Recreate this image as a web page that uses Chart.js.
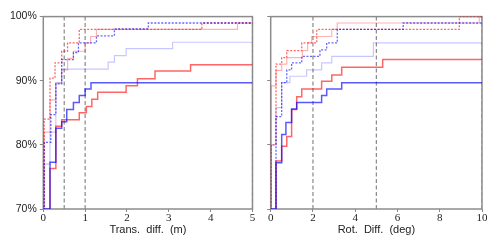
<!DOCTYPE html>
<html>
<head>
<meta charset="utf-8">
<script src="https://cdn.jsdelivr.net/npm/chart.js@4.4.1/dist/chart.umd.min.js"></script>
<style>
  html, body { margin: 0; padding: 0; background: #fff; }
  #wrap { position: relative; width: 500px; height: 250px; }
  canvas { position: absolute; top: 0; }
</style>
</head>
<body>
<div id="wrap">
  <canvas id="transChart" width="258" height="250" style="left:0"></canvas>
  <canvas id="rotChart" width="242" height="250" style="left:258px"></canvas>
</div>
<script>
// translation error CDF (m -> % of queries)
var transBlueX = [0, 0.16, 0.30, 0.44, 0.56, 0.72, 0.86, 1.00, 1.14, 5];
var transBlueY = [70, 77.3, 82.6, 83.6, 85.5, 86.6, 87.7, 88.7, 89.7, 89.7];
var transRedX = [0, 0.16, 0.30, 0.44, 0.86, 1.03, 1.16, 1.30, 1.98, 2.25, 2.67, 3.52, 5];
var transRedY = [65, 76.3, 82.9, 83.9, 85.0, 86.0, 87.1, 88.2, 89.2, 90.3, 91.5, 92.5, 92.5];
var transLightBlueX = [0, 0.02, 0.16, 0.30, 0.44, 1.55, 1.70, 1.98, 3.09, 5];
var transLightBlueY = [65, 77.0, 82.0, 89.7, 91.8, 92.9, 93.9, 95.0, 96.0, 96.0];
var transLightRedX = [0, 0.02, 0.16, 0.30, 0.44, 0.58, 0.72, 1.00, 1.13, 1.27, 4.64, 5];
var transLightRedY = [65, 82.0, 87.0, 89.6, 91.7, 93.5, 94.6, 95.9, 96.9, 98.0, 99.0, 99.0];
var transBlueDotX = [0, 0.02, 0.18, 0.30, 0.44, 0.72, 0.84, 1.27, 1.70, 2.51, 5];
var transBlueDotY = [65, 80.4, 84.7, 89.5, 93.3, 94.4, 95.9, 97.0, 98.1, 99.0, 99.0];
var transRedDotX = [0, 0.02, 0.16, 0.28, 0.44, 0.58, 0.86, 3.79, 5];
var transRedDotY = [65, 84.0, 90.4, 92.8, 94.6, 95.9, 98.0, 99.0, 99.0];
var transMarks = [0.5, 1, 5];

// rotation error CDF (deg -> % of queries)
var rotBlueX = [0, 0.25, 0.52, 0.72, 0.99, 1.23, 2.41, 2.65, 3.36, 10];
var rotBlueY = [70, 77.2, 81.6, 83.5, 85.6, 86.6, 87.7, 88.7, 89.7, 89.7];
var rotRedX = [0, 0.25, 0.52, 0.76, 0.99, 1.23, 1.47, 2.41, 2.89, 3.36, 5.30, 10];
var rotRedY = [65, 77.5, 79.8, 81.3, 85.5, 87.5, 88.7, 89.9, 90.9, 92.1, 93.3, 93.3];
var rotLightBlueX = [0, 0.02, 0.25, 0.52, 0.91, 1.70, 2.41, 2.89, 4.86, 10];
var rotLightBlueY = [65, 80.0, 85.8, 89.7, 90.7, 91.7, 92.8, 93.8, 95.9, 95.9];
var rotLightRedX = [0, 0.02, 0.25, 0.52, 0.76, 1.50, 1.75, 1.94, 2.89, 3.15, 9.87, 10];
var rotLightRedY = [65, 89.2, 91.6, 92.6, 93.6, 94.7, 95.9, 96.9, 98.0, 99.0, 100, 100];
var rotBlueDotX = [0, 0.25, 0.52, 0.76, 0.99, 1.47, 2.33, 2.65, 3.15, 6.27, 10];
var rotBlueDotY = [65, 84.4, 89.7, 91.7, 92.8, 93.8, 94.8, 95.9, 98.0, 99.0, 99.0];
var rotRedDotX = [0, 0.02, 0.25, 0.52, 0.76, 1.47, 2.18, 8.93, 10];
var rotRedDotY = [65, 80.0, 92.6, 93.6, 94.7, 95.9, 98.0, 100, 100];
var rotMarks = [2, 5, 10];

var yTicks = [70, 80, 90, 100];

function pts(xs, ys) {
    return xs.map((x, i) => ({ x: x, y: ys[i] }));
}

function stepLine(xs, ys, color, width, dash) {
    return {
        data: pts(xs, ys), borderColor: color, borderWidth: width,
        borderDash: dash || [], stepped: true, pointRadius: 0, fill: false
    };
}

function markLines(marks) {
    return marks.map(m => ({
        data: [{ x: m, y: 70 }, { x: m, y: 100 }],
        borderColor: '#888', borderWidth: 1.2, borderDash: [4, 2.5], pointRadius: 0, fill: false
    }));
}

var framePlugin = {
    id: 'frame',
    beforeDatasetsDraw(chart) {
        var a = chart.chartArea, ctx = chart.ctx;
        ctx.save();
        ctx.strokeStyle = '#8c8c8c';
        ctx.lineWidth = 1.5;
        ctx.strokeRect(a.left, a.top, a.right - a.left, a.bottom - a.top);
        ctx.restore();
    }
};

function makeChart(id, sets, xMax, xStep, title, yWidth, padRight, showY) {
    return new Chart(document.getElementById(id), {
        type: 'line',
        data: { datasets: sets },
        plugins: [framePlugin],
        options: {
            responsive: false,
            animation: false,
            layout: { padding: { top: 16.6, right: padRight, left: 0, bottom: 0 } },
            plugins: { legend: { display: false }, tooltip: { enabled: false } },
            scales: {
                x: {
                    type: 'linear', min: 0, max: xMax,
                    afterFit: s => { s.height = 41; },
                    border: { display: false },
                    grid: { drawOnChartArea: false, tickLength: 3, color: '#888' },
                    ticks: {
                        stepSize: xStep, padding: 0, color: '#222', maxRotation: 0,
                        font: { family: 'Liberation Serif', size: 11 }
                    },
                    title: {
                        display: true, text: title, color: '#222',
                        padding: { top: 0, bottom: 13 },
                        font: { family: 'Liberation Sans', size: 11 }
                    }
                },
                y: {
                    min: 70, max: 100,
                    afterFit: s => { s.width = yWidth; },
                    afterBuildTicks: s => { s.ticks = yTicks.map(v => ({ value: v })); },
                    border: { display: false },
                    grid: { drawOnChartArea: false, tickLength: 3.5, color: '#888' },
                    ticks: {
                        display: showY, padding: 3, color: '#222',
                        callback: v => v + '%',
                        font: { family: 'Liberation Sans', size: 10.5 }
                    }
                }
            }
        }
    });
}

var transSets = [
    stepLine(transBlueX, transBlueY, 'rgba(0,0,255,0.65)', 1.5),
    stepLine(transRedX, transRedY, 'rgba(255,0,0,0.6)', 1.5),
    stepLine(transBlueDotX, transBlueDotY, 'rgba(0,0,255,0.6)', 1.3, [2, 1.5]),
    stepLine(transRedDotX, transRedDotY, 'rgba(255,0,0,0.6)', 1.3, [2, 1.5]),
    stepLine(transLightBlueX, transLightBlueY, 'rgba(0,0,255,0.22)', 1.2),
    stepLine(transLightRedX, transLightRedY, 'rgba(255,0,0,0.3)', 1.2)
].concat(markLines(transMarks));

var rotSets = [
    stepLine(rotBlueX, rotBlueY, 'rgba(0,0,255,0.65)', 1.5),
    stepLine(rotRedX, rotRedY, 'rgba(255,0,0,0.6)', 1.5),
    stepLine(rotBlueDotX, rotBlueDotY, 'rgba(0,0,255,0.6)', 1.3, [2, 1.5]),
    stepLine(rotRedDotX, rotRedDotY, 'rgba(255,0,0,0.6)', 1.3, [2, 1.5]),
    stepLine(rotLightBlueX, rotLightBlueY, 'rgba(0,0,255,0.22)', 1.2),
    stepLine(rotLightRedX, rotLightRedY, 'rgba(255,0,0,0.3)', 1.2)
].concat(markLines(rotMarks));

makeChart('transChart', transSets, 5, 1, 'Trans.  diff.  (m)', 43.3, 5.5, true);
makeChart('rotChart', rotSets, 10, 2, 'Rot.  Diff.  (deg)', 12.7, 18, false);
</script>
</body>
</html>
